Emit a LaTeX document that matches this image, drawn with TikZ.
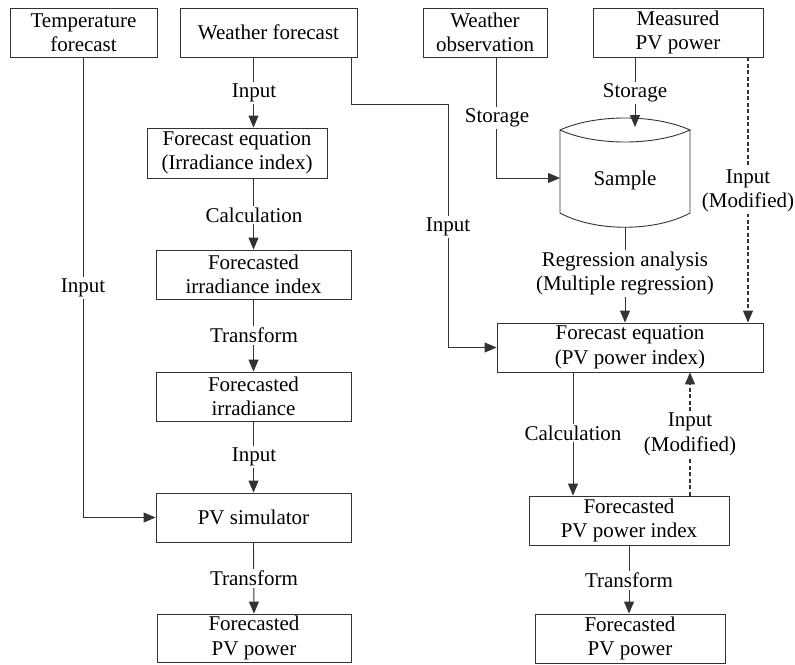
\documentclass[tikz,border=0pt]{standalone}
\usepackage{fontspec}
\setmainfont{Liberation Serif}
\usetikzlibrary{arrows.meta}
\begin{document}
\begin{tikzpicture}[x=1pt,y=-1pt,
  txt/.style={align=center,font=\fontsize{21}{24.5}\selectfont},
  box/.style={txt,draw=black!80,line width=0.9pt,inner sep=0pt},
  lbl/.style={txt,fill=white,inner sep=2pt},
  conn/.style={draw=black!80,line width=0.9pt},
  arr/.style={conn,-{Triangle[length=12pt,width=10pt]}},
  dsh/.style={arr,dash pattern=on 4pt off 2.5pt,line width=1.2pt}]
\useasboundingbox (0,0) rectangle (795,664);
% boxes
\node[box,minimum width=147pt,minimum height=49pt] (tf) at (83.5,32.5) {Temperature\\forecast};
\node[box,minimum width=177pt,minimum height=49pt] (wf) at (268.5,32.5) {Weather forecast};
\node[box,minimum width=124pt,minimum height=49pt] (wo) at (485,32.5) {Weather\\observation};
\node[box,minimum width=170pt,minimum height=49pt] (mp) at (678,32.5) {Measured\\PV power};
\node[box,minimum width=180pt,minimum height=50pt] (fe1) at (237,153) {Forecast equation\\(Irradiance index)};
\node[box,minimum width=195pt,minimum height=49pt] (fii) at (253.5,274.5) {Forecasted\\irradiance index};
\node[box,minimum width=195pt,minimum height=49pt] (fi) at (253.5,396.5) {Forecasted\\irradiance};
\node[box,minimum width=195pt,minimum height=49pt] (pvs) at (253.5,517.5) {PV simulator};
\node[box,minimum width=194pt,minimum height=48pt] (fpv1) at (254,638) {Forecasted\\PV power};
\node[box,minimum width=266pt,minimum height=49pt] (fe2) at (630,347.5) {Forecast equation\\(PV power index)};
\node[box,minimum width=200pt,minimum height=49pt] (fpi) at (629,520.5) {Forecasted\\PV power index};
\node[box,minimum width=190pt,minimum height=49pt] (fpv2) at (630,638.5) {Forecasted\\PV power};
% sample cylinder
\draw[conn] (560,130) .. controls (595,114) and (655,114) .. (690,130)
  .. controls (655,146) and (595,146) .. (560,130) -- (560,213)
  .. controls (595,232) and (655,232) .. (690,213) -- (690,130);
\node[txt] (sample) at (625,180) {Sample};
\coordinate (sbot) at (625,227);
\coordinate (stop) at (635,127);
\coordinate (sleft) at (560,178);
\coordinate (jn) at (448,104);
% connectors
\draw[arr] (tf.south) |- (pvs.west);
\draw[arr] (wf.south -| fii.north) -- (fe1.north -| fii.north);
\draw[arr] (wf.south -| fii.east) |- (jn) |- (fe2.west);
\draw[arr] (fe1.south -| fii.north) -- (fii.north);
\draw[arr] (fii.south) -- (fi.north);
\draw[arr] (fi.south) -- (pvs.north);
\draw[arr] (pvs.south) -- (fpv1.north);
\draw[arr] (wo.south -| fe2.west) |- (sleft);
\draw[arr] (wo.south -| stop) -- (stop);
\draw[dsh] (mp.south -| 748,0) -- (fe2.north -| 748,0);
\draw[arr] (sbot) -- (fe2.north -| sbot);
\draw[arr] (fe2.south -| 573,0) -- (fpi.north -| 573,0);
\draw[dsh] (fpi.north -| 690,0) -- (fe2.south -| 690,0);
\draw[arr] (fpi.south) -- (fpv2.north -| fpi.south);
% labels
\node[lbl] (l1) at (83,288) {Input};
\node[lbl] (l2) at (254,93) {Input};
\node[lbl] (l3) at (448,227) {Input};
\node[lbl] (l4) at (254,215) {Calculation};
\node[lbl] (l5) at (254,335) {Transform};
\node[lbl] (l6) at (254,457) {Input};
\node[lbl] (l7) at (254,578) {Transform};
\node[lbl] (l8) at (497,118) {Storage};
\node[lbl] (l9) at (635,93) {Storage};
\node[lbl] (l10) at (748,191) {Input\\(Modified)};
\node[lbl] (l11) at (625,273.5) {Regression analysis\\(Multiple regression)};
\node[lbl] (l12) at (573,433) {Calculation};
\node[lbl] (l13) at (690,434.5) {Input\\(Modified)};
\node[lbl] (l14) at (629,580) {Transform};
\end{tikzpicture}
\end{document}
